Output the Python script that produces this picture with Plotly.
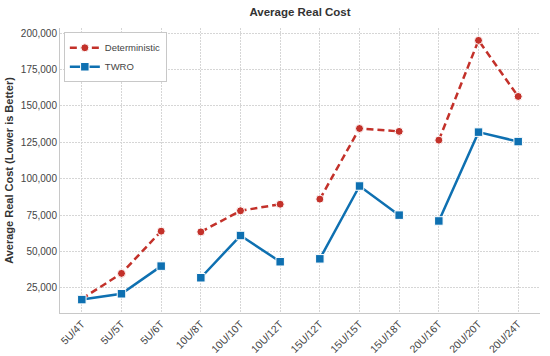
import plotly.graph_objects as go

categories = ["5U/4T", "5U/5T", "5U/6T", "10U/8T", "10U/10T", "10U/12T",
              "15U/12T", "15U/15T", "15U/18T", "20U/16T", "20U/20T", "20U/24T"]
groups = [0, 0, 0, 1, 1, 1, 2, 2, 2, 3, 3, 3]
deterministic = [17500, 35000, 64000, 63500, 78000, 82500,
                 86000, 134500, 132500, 126500, 195000, 156500]
twro = [17000, 21000, 40000, 32000, 61000, 43000,
        45000, 95000, 75000, 71000, 132000, 125500]
y_ticks = [25000, 50000, 75000, 100000, 125000, 150000, 175000, 200000]

RED = "#C3312A"
BLUE = "#0E70B1"

fig = go.Figure()
for name, vals, color, dash, symbol in [
    ("Deterministic", deterministic, RED, "dash", "circle"),
    ("TWRO", twro, BLUE, "solid", "square"),
]:
    for g in sorted(set(groups)):
        xs = [c for c, gg in zip(categories, groups) if gg == g]
        ys = [v for v, gg in zip(vals, groups) if gg == g]
        fig.add_trace(go.Scatter(
            x=xs, y=ys, mode="lines+markers", name=name,
            legendgroup=name, showlegend=(g == 0),
            line=dict(color=color, width=2.5, dash="7px,4px" if dash == "dash" else "solid"),
            marker=dict(symbol=symbol, size=8 if symbol == "circle" else 8.5, color=color,
                        line=dict(color="white", width=1)),
        ))

fig.update_layout(
    width=550, height=356,
    margin=dict(l=60, r=10, t=28, b=43),
    paper_bgcolor="white", plot_bgcolor="white",
    font=dict(family="Liberation Sans, Arial, sans-serif", size=10, color="#444"),
    title=dict(text="<b>Average Real Cost</b>", x=300/550, xanchor="center",
               y=1 - 11.5/356, yanchor="middle", font=dict(size=11.5, color="#333")),
    legend=dict(x=0.008, y=0.985, xanchor="left", yanchor="top",
                bgcolor="white", bordercolor="#c8c8c8", borderwidth=1,
                font=dict(size=9.5, color="#444"), tracegroupgap=0, itemwidth=30),
    showlegend=True,
)
fig.update_xaxes(
    type="category", categoryorder="array", categoryarray=categories,
    range=[-0.55, 11.55], tickangle=-45, automargin=False,
    showgrid=True, gridcolor="#d6d6d6", gridwidth=1, griddash="2px,1px",
    showline=True, linecolor="#c8c8c8", linewidth=1, ticks="", zeroline=False,
    tickfont=dict(size=10.5, color="#444"),
)
fig.update_yaxes(
    range=[7800, 203500], tickvals=y_ticks, tickformat=",d", automargin=False,
    showgrid=True, gridcolor="#d6d6d6", gridwidth=1, griddash="2px,1px",
    showline=True, linecolor="#c8c8c8", linewidth=1, ticks="", zeroline=False,
    title=dict(text="<b>Average Real Cost (Lower is Better)</b>", font=dict(size=11, color="#333"), standoff=4),
    tickfont=dict(size=10, color="#444"),
)

fig.write_html("out.html", config={"displayModeBar": False},
               post_script="document.body.style.margin='0';document.body.style.overflow='hidden';")
